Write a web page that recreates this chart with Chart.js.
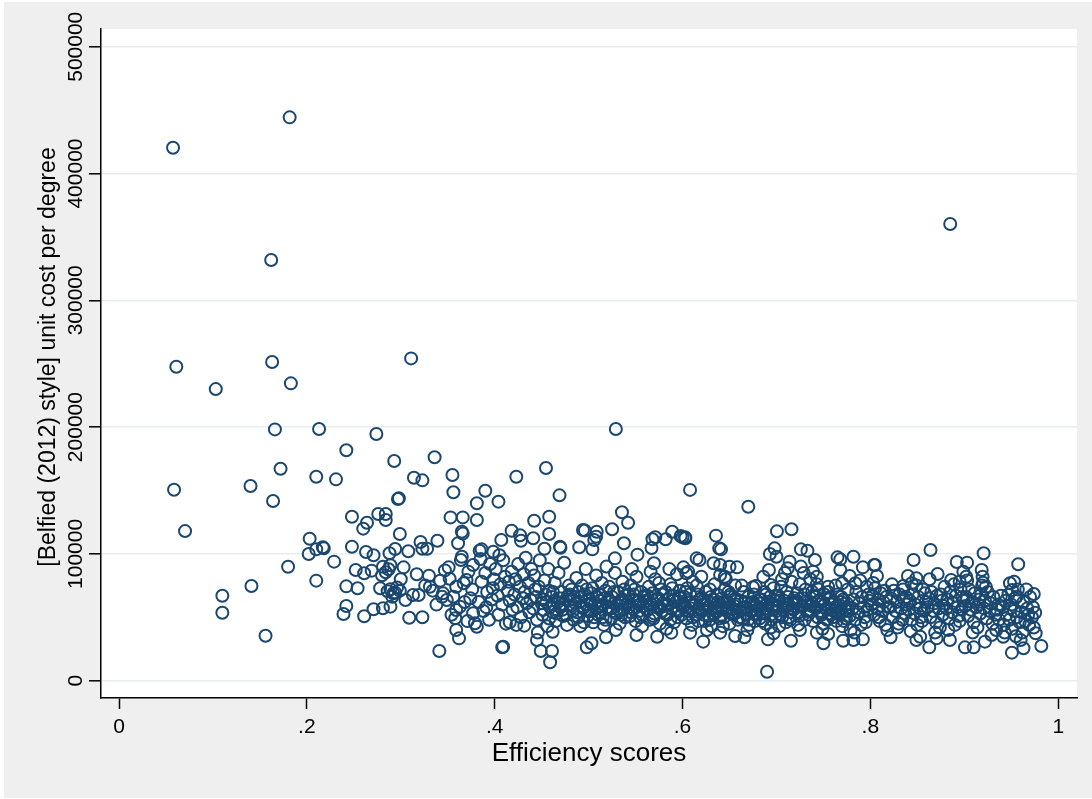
<!DOCTYPE html>
<html>
<head>
<meta charset="utf-8">
<title>Unit cost vs efficiency</title>
<script src="https://cdn.jsdelivr.net/npm/chart.js@4.4.1/dist/chart.umd.min.js"></script>
<style>
  html, body { margin: 0; padding: 0; background: #ffffff; }
  #wrap { width: 1092px; height: 799px; }
</style>
</head>
<body>
<div id="wrap"><canvas id="scatterChart" width="1092" height="799"></canvas></div>
<script>
// Axis ticks
const xTickValues = [0, 0.2, 0.4, 0.6, 0.8, 1];
const xTickLabels = ['0', '.2', '.4', '.6', '.8', '1'];
const yTickValues = [0, 100000, 200000, 300000, 400000, 500000];
const yTickLabels = ['0', '100000', '200000', '300000', '400000', '500000'];
const xTitle = 'Efficiency scores';
const yTitle = '[Belfied (2012) style] unit cost per degree';

// Points as [efficiency score, unit cost in thousands]
// low efficiency institutions and the far outliers
const sparsePoints = [
  [0.0575,420.3],[0.1817,444.3],[0.162,331.8],[0.885,360.2],[0.529,198.5],
  [0.061,247.6],[0.103,230.0],[0.163,251.3],[0.183,234.5],[0.311,254.2],
  [0.166,198.2],[0.213,198.5],[0.274,194.6],[0.242,181.7],[0.293,173.3],[0.336,176.2],
  [0.172,167.2],[0.210,160.9],[0.231,158.8],[0.314,160.1],[0.323,158.0],[0.355,162.2],[0.356,148.6],
  [0.0586,150.6],[0.140,153.5],[0.164,141.7],[0.297,143.3],[0.298,143.8],
  [0.0703,118.0],[0.248,129.3],[0.276,131.5],[0.284,131.5],[0.284,126.7],[0.264,124.6],[0.260,119.9],
  [0.353,128.8],[0.366,128.8],[0.365,117.5],[0.366,116.0],[0.381,139.9],[0.381,126.7],[0.299,115.7],
  [0.203,112.0],[0.202,99.9],[0.210,103.6],[0.217,105.2],[0.218,104.4],[0.248,105.7],[0.263,101.5],[0.271,98.9],
  [0.288,100.5],[0.294,103.9],[0.308,102.1],[0.321,109.4],[0.323,104.1],[0.328,104.1],[0.339,110.4],
  [0.361,108.4],[0.365,97.8],[0.364,95.2],[0.377,91.2],[0.384,102.5],[0.229,93.9],[0.180,89.9],[0.210,78.9],
  [0.141,74.7],[0.110,67.0],[0.110,53.6],[0.156,35.5],
  [0.242,74.4],[0.254,72.9],[0.242,58.9],[0.239,52.6],[0.261,50.8],
  [0.252,87.3],[0.261,84.7],[0.269,86.8],
  [0.281,89.9],[0.287,87.9],[0.289,91.0],[0.280,83.1],[0.303,89.4],
  [0.278,72.9],[0.289,72.1],[0.292,68.9],[0.299,71.0],[0.291,66.2],[0.313,67.6],[0.319,67.6],[0.305,63.6],
  [0.281,57.1],[0.289,58.4],[0.271,56.3],[0.309,49.7],[0.323,50.0],
  [0.330,82.8],[0.331,74.1],[0.342,78.9],[0.352,80.4],[0.345,68.9],[0.351,89.4],
  [0.359,74.1],[0.367,76.8],[0.370,79.4],[0.356,66.2],[0.363,58.4],[0.359,55.8],[0.374,65.0],
  [0.358,49.2],[0.359,40.0],[0.362,33.4],[0.341,23.4],
  [0.379,45.3],[0.381,42.6],[0.377,53.2],[0.344,66.2],[0.349,63.6],
  [0.286,70.5],[0.294,69.5],[0.296,73.5],[0.284,85.5],[0.300,80.0],[0.317,84.0],[0.326,75.0],
  [0.334,71.0],[0.338,60.0],[0.347,87.0],[0.372,86.0],[0.376,72.0],[0.368,62.0],[0.354,52.0],[0.371,47.0]
];

// upper edge of the main cloud
const upperPoints = [
  [0.4546,167.7],[0.423,160.9],[0.390,149.8],[0.404,141.2],[0.469,146.2],[0.442,126.2],[0.458,129.3],
  [0.5355,132.8],[0.542,124.6],[0.525,119.4],[0.494,118.9],[0.496,118.4],[0.5086,117.5],
  [0.418,118.3],[0.427,114.7],[0.407,111.0],[0.458,115.7],[0.441,112.3],[0.428,110.4],[0.4695,105.7],[0.470,104.9],
  [0.453,104.1],[0.386,103.6],[0.3985,101.7],[0.490,105.2],[0.504,103.6],[0.508,113.6],[0.506,111.0],
  [0.568,111.5],[0.571,113.1],[0.582,111.5],[0.589,117.5],[0.598,114.1],[0.6026,113.1],[0.5376,108.4],
  [0.552,99.4],[0.567,104.7],[0.5696,92.6],[0.528,96.5],[0.608,150.5],
  [0.670,137.2],[0.7005,117.8],[0.716,119.4],[0.600,113.1],[0.603,112.3],[0.6356,114.4],[0.639,104.4],[0.641,103.6],
  [0.615,96.5],[0.618,95.2],[0.633,92.6],[0.640,91.2],[0.658,89.4],[0.650,89.9],
  [0.601,89.4],[0.604,84.7],[0.620,82.0],[0.640,83.4],[0.645,82.0],
  [0.698,104.4],[0.693,99.9],[0.700,97.8],[0.714,93.9],[0.712,88.6],[0.692,87.3],[0.694,75.5],
  [0.726,103.6],[0.733,102.5],[0.741,95.2],[0.739,86.0],[0.743,82.0],[0.755,74.1],
  [0.765,97.3],[0.768,95.7],[0.782,97.8],[0.792,89.4],[0.804,91.2],[0.807,82.6],
  [0.768,87.3],[0.770,76.8],[0.778,82.6],[0.784,76.8],[0.678,74.7],[0.675,73.7],
  [0.864,103.1],[0.9206,100.5],[0.846,95.2],[0.805,91.2],[0.892,93.6],[0.903,93.1],[0.9574,91.8],
  [0.8716,84.1],[0.840,82.6],[0.849,80.8],[0.844,76.8],[0.835,74.7],
  [0.886,79.4],[0.895,78.1],[0.902,82.0],[0.899,86.0],[0.9185,87.3],[0.9195,82.0],[0.920,77.3],
  [0.9486,76.8],[0.953,78.1],[0.951,71.5],[0.9557,66.2],[0.974,68.4]
];

// lower edge of the main cloud
const lowerPoints = [
  [0.408,26.3],[0.409,26.8],[0.459,14.5],[0.461,23.4],[0.449,23.4],[0.445,32.1],[0.498,26.3],[0.503,29.5],
  [0.416,46.1],[0.4315,43.4],[0.4617,38.6],[0.5185,34.2],[0.551,36.0],[0.573,34.7],[0.588,37.9],
  [0.690,7.1],[0.7154,31.5],[0.750,29.5],[0.622,30.8],[0.656,35.3],[0.666,34.2],[0.691,32.6],[0.697,37.4],
  [0.771,31.5],[0.782,32.1],[0.792,32.6],[0.608,37.9],[0.640,37.9],[0.725,40.0],[0.743,37.9],[0.755,36.8],
  [0.9755,53.6],[0.976,37.4],[0.982,27.4],[0.960,32.1],[0.963,25.6],[0.9507,22.1],[0.922,30.8],
  [0.9007,26.3],[0.910,26.3],[0.8847,32.1],[0.8627,26.3],[0.8215,34.2],[0.849,32.1],[0.853,34.7],
  [0.8705,33.4],[0.9415,34.7]
];

// dense core of the cloud
const corePoints = [
  [0.383,62],[0.386,78],[0.388,55],[0.390,85],[0.392,70],[0.394,48],[0.395,92],[0.397,64],[0.399,80],[0.385,96],[0.391,58],[0.398,73],
  [0.401,88],[0.403,67],[0.404,52],[0.406,76],[0.408,60],[0.409,95],[0.411,82],[0.412,45],[0.414,71],[0.416,63],[0.418,86],[0.419,56],[0.405,99],[0.415,78],
  [0.421,68],[0.422,80],[0.424,58],[0.425,92],[0.427,74],[0.428,50],[0.430,65],[0.431,84],[0.433,97],[0.434,61],[0.436,77],[0.437,54],[0.439,88],[0.423,44],[0.432,70],[0.438,64],
  [0.441,57],[0.442,83],[0.444,66],[0.445,48],[0.447,74],[0.448,95],[0.450,61],[0.451,52],[0.453,79],[0.454,68],[0.456,43],[0.457,88],[0.459,58],[0.443,72],[0.452,64],[0.458,71],[0.446,38],
  [0.461,66],[0.462,54],[0.464,77],[0.465,47],[0.467,62],[0.468,85],[0.470,58],[0.471,70],[0.473,51],[0.474,93],[0.476,64],[0.477,44],[0.479,75],[0.463,60],[0.472,56],[0.478,67],
  [0.481,59],[0.482,72],[0.484,48],[0.485,66],[0.487,81],[0.488,54],[0.490,62],[0.491,43],[0.493,75],[0.494,57],[0.496,68],[0.497,88],[0.499,51],[0.483,64],[0.489,70],[0.495,46],[0.498,60],
  [0.501,64],[0.502,55],[0.504,73],[0.505,46],[0.507,61],[0.508,83],[0.510,52],[0.511,68],[0.513,59],[0.514,77],[0.516,44],[0.517,65],[0.519,90],[0.503,69],[0.509,57],[0.515,50],[0.518,71],[0.512,63],
  [0.521,58],[0.522,74],[0.524,49],[0.525,66],[0.527,61],[0.528,85],[0.530,53],[0.531,70],[0.533,45],[0.534,63],[0.536,78],[0.537,56],[0.539,67],[0.523,62],[0.529,40],[0.535,52],[0.538,72],[0.526,55],
  [0.541,60],[0.542,68],[0.544,51],[0.545,75],[0.547,57],[0.548,64],[0.550,47],[0.551,82],[0.553,62],[0.554,55],[0.556,70],[0.557,43],[0.559,66],[0.543,58],[0.549,72],[0.555,50],[0.558,59],[0.546,88],
  [0.561,63],[0.562,56],[0.564,74],[0.565,48],[0.567,60],[0.568,69],[0.570,53],[0.571,80],[0.573,58],[0.574,65],[0.576,45],[0.577,72],[0.579,61],[0.563,67],[0.569,51],[0.575,77],[0.578,55],[0.566,86],
  [0.581,59],[0.582,70],[0.584,52],[0.585,64],[0.587,76],[0.588,57],[0.590,67],[0.591,46],[0.593,62],[0.594,84],[0.596,55],[0.597,71],[0.599,60],[0.583,41],[0.589,73],[0.595,50],[0.598,65],[0.586,88],
  [0.601,58],[0.602,66],[0.604,49],[0.605,73],[0.607,55],[0.608,62],[0.610,44],[0.611,78],[0.613,60],[0.614,52],[0.616,68],[0.617,47],[0.619,64],[0.603,70],[0.609,57],[0.615,75],[0.618,54],[0.606,86],
  [0.621,56],[0.622,63],[0.624,47],[0.625,70],[0.627,58],[0.628,51],[0.630,66],[0.631,43],[0.633,61],[0.634,76],[0.636,54],[0.637,68],[0.639,49],[0.623,60],[0.629,72],[0.635,57],[0.638,62],[0.626,40],[0.632,53],
  [0.641,58],[0.642,65],[0.644,50],[0.645,72],[0.647,55],[0.648,62],[0.650,45],[0.651,68],[0.653,57],[0.654,52],[0.656,75],[0.657,60],[0.659,48],[0.643,43],[0.649,70],[0.655,64],[0.658,54],[0.646,80],
  [0.661,56],[0.662,63],[0.664,49],[0.665,70],[0.667,58],[0.668,52],[0.670,66],[0.671,44],[0.673,61],[0.674,55],[0.676,68],[0.677,47],[0.679,59],[0.663,75],[0.669,40],[0.675,62],[0.678,53],
  [0.681,57],[0.682,49],[0.684,64],[0.685,53],[0.687,70],[0.688,45],[0.690,60],[0.691,55],[0.693,66],[0.694,42],[0.696,58],[0.697,73],[0.699,51],[0.683,61],[0.689,68],[0.695,48],[0.698,63],[0.686,82],
  [0.701,59],[0.702,67],[0.704,52],[0.705,74],[0.707,56],[0.708,63],[0.710,46],[0.711,70],[0.713,60],[0.714,50],[0.716,78],[0.717,57],[0.719,65],[0.703,43],[0.709,85],[0.715,54],[0.718,62],[0.706,80],
  [0.721,61],[0.722,69],[0.724,54],[0.725,76],[0.727,58],[0.728,65],[0.730,48],[0.731,72],[0.733,62],[0.734,52],[0.736,80],[0.737,59],[0.739,67],[0.723,44],[0.729,85],[0.735,56],[0.738,70],[0.726,90],
  [0.741,58],[0.742,66],[0.744,50],[0.745,72],[0.747,55],[0.748,62],[0.750,45],[0.751,68],[0.753,57],[0.754,48],[0.756,64],[0.757,53],[0.759,60],[0.743,76],[0.749,41],[0.755,70],[0.758,52],
  [0.761,55],[0.762,62],[0.764,47],[0.765,68],[0.767,52],[0.768,59],[0.770,43],[0.771,64],[0.773,56],[0.774,49],[0.776,72],[0.777,58],[0.779,40],[0.763,75],[0.769,66],[0.775,61],[0.778,51],
  [0.781,57],[0.782,64],[0.784,48],[0.785,70],[0.787,54],[0.788,61],[0.790,44],[0.791,66],[0.793,58],[0.794,50],[0.796,74],[0.797,56],[0.799,63],[0.783,38],[0.789,79],[0.795,46],[0.798,68],
  [0.801,60],[0.802,67],[0.804,52],[0.805,73],[0.807,57],[0.808,64],[0.810,47],[0.811,69],[0.813,55],[0.814,62],[0.816,44],[0.817,66],[0.819,58],[0.803,77],[0.809,50],[0.815,71],[0.818,40],
  [0.821,58],[0.822,65],[0.824,50],[0.825,71],[0.827,55],[0.828,62],[0.830,45],[0.831,68],[0.833,57],[0.834,48],[0.836,64],[0.837,53],[0.839,60],[0.823,76],[0.829,42],[0.835,72],[0.838,66],
  [0.841,56],[0.842,63],[0.844,48],[0.845,68],[0.847,53],[0.848,60],[0.850,44],[0.851,66],[0.853,57],[0.854,50],[0.856,72],[0.857,55],[0.859,62],[0.843,39],[0.849,75],[0.855,47],[0.858,69],
  [0.861,58],[0.862,65],[0.864,50],[0.865,70],[0.867,55],[0.868,61],[0.870,46],[0.871,67],[0.873,57],[0.874,42],[0.876,63],[0.877,52],[0.879,74],[0.863,80],[0.869,38],[0.875,68],[0.878,59],
  [0.881,57],[0.882,64],[0.884,49],[0.885,70],[0.887,54],[0.888,61],[0.890,44],[0.891,67],[0.893,58],[0.894,51],[0.896,72],[0.897,56],[0.899,63],[0.883,40],[0.889,76],[0.895,47],[0.898,66],
  [0.901,59],[0.902,66],[0.904,51],[0.905,72],[0.907,56],[0.908,62],[0.910,46],[0.911,69],[0.913,58],[0.914,42],[0.916,64],[0.917,53],[0.919,75],[0.903,79],[0.909,38],[0.915,60],[0.918,68],
  [0.921,57],[0.922,63],[0.924,49],[0.925,70],[0.927,55],[0.928,61],[0.930,45],[0.931,66],[0.933,52],[0.934,40],[0.936,60],[0.937,48],[0.939,67],[0.923,74],[0.929,36],[0.935,56],
  [0.941,58],[0.942,44],[0.944,63],[0.945,52],[0.947,68],[0.948,48],[0.950,60],[0.951,41],[0.953,55],[0.954,65],[0.956,50],[0.957,72],[0.959,46],[0.943,38],[0.949,57],[0.955,35],
  [0.961,54],[0.963,62],[0.965,47],[0.967,57],[0.969,44],[0.970,66],[0.972,50],[0.974,42],[0.966,72],[0.962,38],[0.968,52],[0.973,58]
];

// darkest band in the middle of the cloud
const bandPoints = [
  [0.452,56],[0.455,62],[0.458,49],[0.462,70],[0.466,53],[0.469,65],[0.473,60],[0.476,52],[0.480,68],[0.483,55],[0.486,61],[0.489,50],[0.492,66],[0.495,58],[0.498,72],
  [0.500,56],[0.503,61],[0.506,50],[0.509,66],[0.512,54],[0.515,60],[0.518,48],[0.521,64],[0.524,57],[0.527,70],[0.530,60],[0.533,55],[0.536,64],[0.539,50],[0.542,62],[0.545,54],[0.548,68],
  [0.551,58],[0.554,63],[0.557,52],[0.560,67],[0.563,56],[0.566,61],[0.569,49],[0.572,64],[0.575,57],[0.578,68],[0.581,53],[0.584,60],[0.587,48],[0.590,63],[0.593,56],[0.596,66],[0.599,52],
  [0.602,60],[0.605,55],[0.608,68],[0.611,50],[0.614,62],[0.617,57],[0.620,65],[0.623,52],[0.626,60],[0.629,48],[0.632,64],[0.635,55],[0.638,58],[0.641,51],[0.644,62],[0.647,57],[0.650,66],
  [0.652,53],[0.655,59],[0.658,64],[0.661,50],[0.664,57],[0.667,62],[0.670,48],[0.673,55],[0.676,60],[0.679,52],[0.682,64],[0.685,47],[0.688,57],[0.691,62],[0.694,52],[0.697,60],
  [0.700,55],[0.703,63],[0.706,50],[0.709,58],[0.712,66],[0.715,48],[0.718,56],[0.721,63],[0.724,51],[0.727,59],[0.730,68],[0.733,55],[0.736,62],[0.739,47],[0.742,57],[0.745,63],
  [0.748,52],[0.751,60],[0.754,56],[0.757,66],[0.760,50],[0.763,58],[0.766,54],[0.769,62],[0.772,47],[0.775,55]
];

const markerColor = '#1a476f';

// Background, plot region, tick labels and axis titles (Stata-like frame)
const stataFrame = {
  id: 'stataFrame',
  beforeDraw(chart) {
    const { ctx, chartArea } = chart;
    ctx.save();
    ctx.fillStyle = '#ffffff';
    ctx.fillRect(0, 0, chart.width, chart.height);
    ctx.fillStyle = '#efefef';
    ctx.fillRect(4, 2, chart.width - 4, chart.height - 3);
    ctx.fillStyle = '#ffffff';
    ctx.fillRect(chartArea.left, chartArea.top, chartArea.right - chartArea.left, chartArea.bottom - chartArea.top);
    ctx.restore();
  },
  afterDraw(chart) {
    const { ctx, chartArea } = chart;
    const xScale = chart.scales.x;
    const yScale = chart.scales.y;
    ctx.save();
    ctx.fillStyle = '#000000';
    ctx.textBaseline = 'alphabetic';
    ctx.textAlign = 'center';

    ctx.font = '21px "Liberation Sans", Arial, sans-serif';
    xTickValues.forEach((v, i) => {
      ctx.fillText(xTickLabels[i], xScale.getPixelForValue(v), 733);
    });
    yTickValues.forEach((v, i) => {
      ctx.save();
      ctx.translate(82, yScale.getPixelForValue(v));
      ctx.rotate(-Math.PI / 2);
      ctx.fillText(yTickLabels[i], 0, 0);
      ctx.restore();
    });

    ctx.font = '26px "Liberation Sans", Arial, sans-serif';
    ctx.fillText(xTitle, (chartArea.left + chartArea.right) / 2, 761);

    ctx.font = '23px "Liberation Sans", Arial, sans-serif';
    ctx.save();
    ctx.translate(55, 357);
    ctx.rotate(-Math.PI / 2);
    ctx.fillText(yTitle, 0, 0);
    ctx.restore();

    ctx.restore();
  }
};

function toXY(list) {
  return list.map(p => ({ x: p[0], y: p[1] * 1000 }));
}

const allPoints = [].concat(
  toXY(sparsePoints), toXY(upperPoints), toXY(lowerPoints), toXY(corePoints), toXY(bandPoints)
);

const ctx = document.getElementById('scatterChart').getContext('2d');
const scatterChart = new Chart(ctx, {
  type: 'scatter',
  data: {
    datasets: [{
      label: 'Unit cost',
      data: allPoints,
      pointStyle: 'circle',
      pointRadius: 6,
      pointBorderWidth: 2,
      pointBorderColor: markerColor,
      pointBackgroundColor: 'rgba(0,0,0,0)',
      pointHoverRadius: 6
    }]
  },
  options: {
    responsive: false,
    animation: false,
    events: [],
    layout: { padding: { left: 0, top: 29, right: 15, bottom: 0 } },
    plugins: {
      legend: { display: false },
      tooltip: { enabled: false }
    },
    scales: {
      x: {
        type: 'linear',
        min: -0.0192,
        max: 1.02,
        afterBuildTicks: scale => { scale.ticks = xTickValues.map(v => ({ value: v })); },
        afterFit: scale => { scale.height = 101; },
        ticks: { display: false },
        grid: {
          drawOnChartArea: false,
          drawTicks: true,
          tickLength: 11,
          tickColor: '#000000',
          tickWidth: 1.5
        },
        border: { display: true, color: '#000000', width: 1.5 }
      },
      y: {
        type: 'linear',
        min: -13650,
        max: 514000,
        afterBuildTicks: scale => { scale.ticks = yTickValues.map(v => ({ value: v })); },
        afterFit: scale => { scale.width = 101; },
        ticks: { display: false },
        grid: {
          color: '#e6eef1',
          lineWidth: 1.6,
          drawTicks: true,
          tickLength: 12,
          tickColor: '#000000',
          tickWidth: 1.5
        },
        border: { display: true, color: '#000000', width: 1.5 }
      }
    }
  },
  plugins: [stataFrame]
});
</script>
</body>
</html>
